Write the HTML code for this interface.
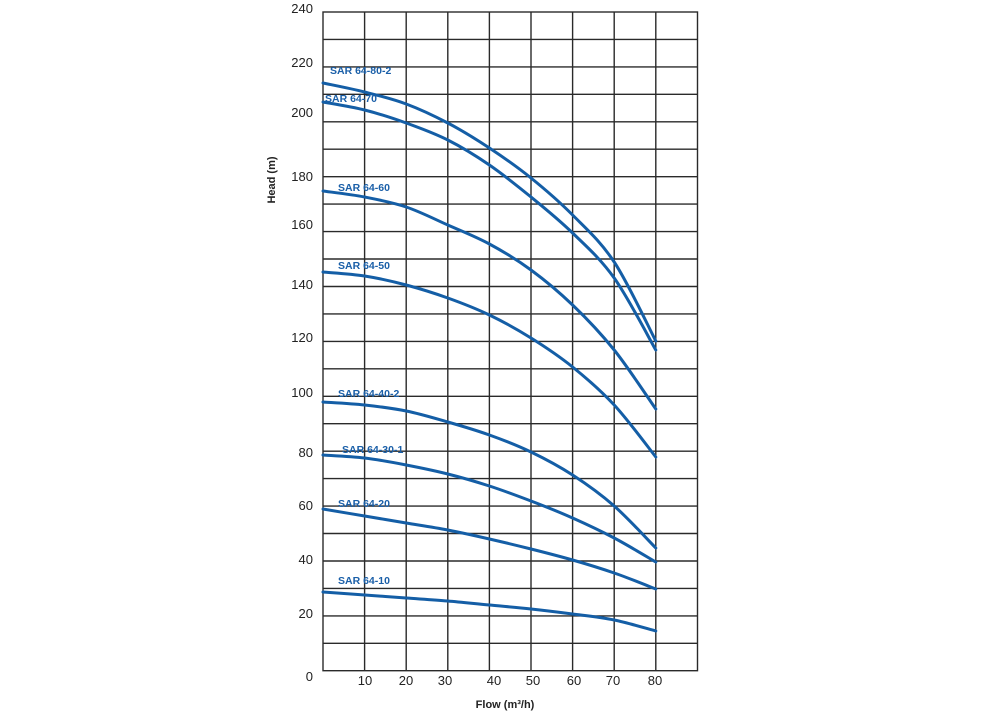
<!DOCTYPE html>
<html><head><meta charset="utf-8"><style>
html,body{margin:0;padding:0;background:#fff;}
svg{display:block;font-family:"Liberation Sans",sans-serif;}
</style></head><body>
<svg id="c" width="1000" height="712" viewBox="0 0 1000 712" xmlns="http://www.w3.org/2000/svg">
<g stroke="#2a2a2a" stroke-width="1.4" fill="none">
<rect x="323" y="12" width="374.5" height="658.7"/>
<path d="M364.6 12V670.7M406.2 12V670.7M447.8 12V670.7M489.4 12V670.7M531 12V670.7M572.6 12V670.7M614.2 12V670.7M655.8 12V670.7"/>
<path d="M323 39.4H697.5M323 66.9H697.5M323 94.3H697.5M323 121.8H697.5M323 149.2H697.5M323 176.7H697.5M323 204.1H697.5M323 231.6H697.5M323 259H697.5M323 286.5H697.5M323 313.9H697.5M323 341.4H697.5M323 368.8H697.5M323 396.3H697.5M323 423.7H697.5M323 451.2H697.5M323 478.6H697.5M323 506.1H697.5M323 533.5H697.5M323 561H697.5M323 588.4H697.5M323 615.9H697.5M323 643.3H697.5"/>
</g>
<g id="curves" stroke="#145ea6" stroke-width="3" fill="none" stroke-linejoin="round" stroke-linecap="round">
<polyline points="323,83 364.6,92 406.2,104 447.8,123 489.4,148 531,178 572.6,215 614.2,262 655.8,341"/>
<polyline points="323,102 364.6,110 406.2,123 447.8,140 489.4,165 531,197 572.6,233 614.2,278 655.8,350"/>
<polyline points="323,191 364.6,197 406.2,207 447.8,225 489.4,244 531,270 572.6,305 614.2,350 655.8,409"/>
<polyline points="323,272 364.6,276 406.2,285 447.8,298 489.4,315 531,338 572.6,367 614.2,405 655.8,457"/>
<polyline points="323,402 364.6,405 406.2,411 447.8,422 489.4,435 531,452 572.6,475 614.2,506 655.8,548"/>
<polyline points="323,455 364.6,458 406.2,465 447.8,474 489.4,486 531,501 572.6,518 614.2,538 655.8,562"/>
<polyline points="323,509 364.6,516 406.2,523 447.8,530 489.4,539 531,549 572.6,560 614.2,573 655.8,589"/>
<polyline points="323,592 364.6,595 406.2,598 447.8,601 489.4,605 531,609 572.6,614 614.2,620 655.8,631"/>
</g>
<g fill="#1a5fa8" font-size="10.5" font-weight="bold">
<text x="330" y="74">SAR 64-80-2</text>
<text x="325" y="102">SAR 64-70</text>
<text x="338" y="191">SAR 64-60</text>
<text x="338" y="269">SAR 64-50</text>
<text x="338" y="397">SAR 64-40-2</text>
<text x="342" y="453">SAR 64-30-1</text>
<text x="338" y="507">SAR 64-20</text>
<text x="338" y="584">SAR 64-10</text>
</g>
<g fill="#222" font-size="13" text-anchor="end">
<text x="313" y="13">240</text>
<text x="313" y="67">220</text>
<text x="313" y="117">200</text>
<text x="313" y="181">180</text>
<text x="313" y="229">160</text>
<text x="313" y="289">140</text>
<text x="313" y="342">120</text>
<text x="313" y="397">100</text>
<text x="313" y="457">80</text>
<text x="313" y="510">60</text>
<text x="313" y="564">40</text>
<text x="313" y="618">20</text>
<text x="313" y="681">0</text>
</g>
<g fill="#222" font-size="13" text-anchor="middle">
<text x="365" y="685">10</text>
<text x="406" y="685">20</text>
<text x="445" y="685">30</text>
<text x="494" y="685">40</text>
<text x="533" y="685">50</text>
<text x="574" y="685">60</text>
<text x="613" y="685">70</text>
<text x="655" y="685">80</text>
</g>
<text x="505" y="708" font-size="11" font-weight="bold" text-anchor="middle" fill="#222">Flow (m³/h)</text>
<text transform="translate(275,180) rotate(-90)" font-size="11" font-weight="bold" text-anchor="middle" fill="#222">Head (m)</text>
</svg>
<script>
(function(){
var g=document.getElementById('curves');
var pls=Array.prototype.slice.call(g.querySelectorAll('polyline'));
pls.forEach(function(pl){
var p=pl.getAttribute('points').trim().split(/\s+/).map(function(s){var a=s.split(',');return [+a[0],+a[1]];});
var d='M'+p[0][0]+' '+p[0][1];
for(var i=0;i<p.length-1;i++){
var p0=p[i-1]||p[i],p1=p[i],p2=p[i+1],p3=p[i+2]||p[i+1];
var c1x=p1[0]+(p2[0]-p0[0])/6,c1y=p1[1]+(p2[1]-p0[1])/6;
var c2x=p2[0]-(p3[0]-p1[0])/6,c2y=p2[1]-(p3[1]-p1[1])/6;
d+=' C'+c1x.toFixed(1)+' '+c1y.toFixed(1)+' '+c2x.toFixed(1)+' '+c2y.toFixed(1)+' '+p2[0]+' '+p2[1];
}
var path=document.createElementNS('http://www.w3.org/2000/svg','path');
path.setAttribute('d',d);
g.replaceChild(path,pl);
});
})();
</script>
</body></html>
